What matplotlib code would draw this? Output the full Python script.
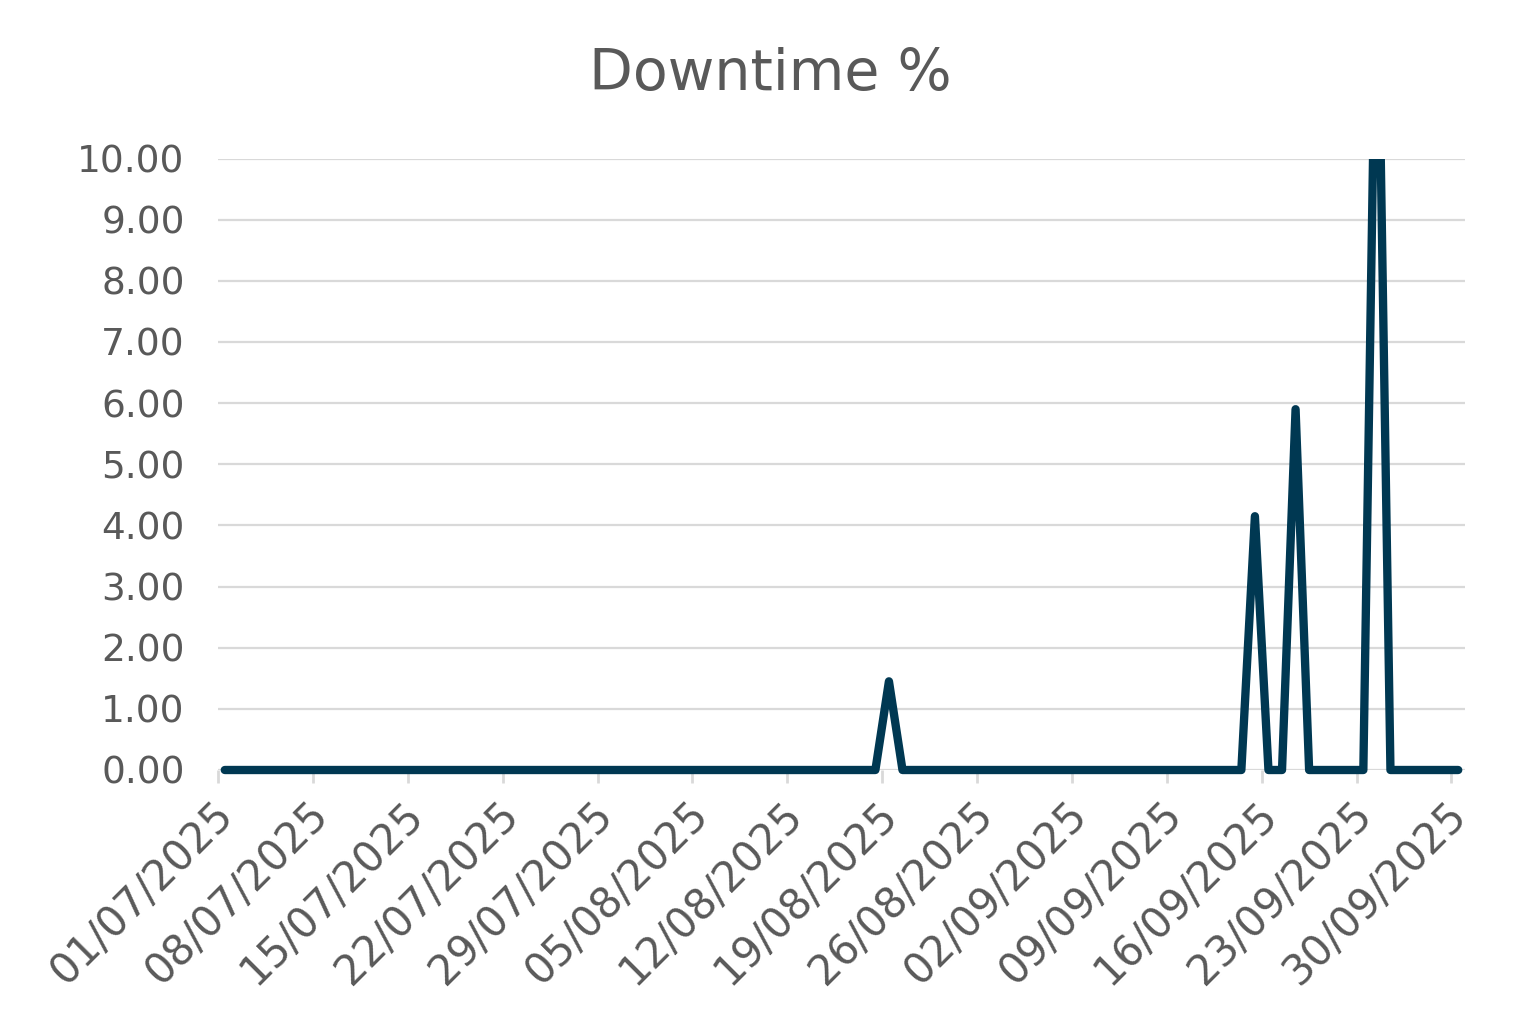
import matplotlib
matplotlib.use("Agg")
import matplotlib.pyplot as plt
import matplotlib.dates as mdates
from matplotlib.patches import Rectangle
from matplotlib.ticker import FormatStrFormatter
from matplotlib.transforms import ScaledTranslation
import pandas as pd

# daily downtime %, 01/07/2025 .. 30/09/2025
START = "2025-07-01"
JULY = [0.00, 0.00, 0.00, 0.00, 0.00, 0.00, 0.00, 0.00, 0.00, 0.00,
        0.00, 0.00, 0.00, 0.00, 0.00, 0.00, 0.00, 0.00, 0.00, 0.00,
        0.00, 0.00, 0.00, 0.00, 0.00, 0.00, 0.00, 0.00, 0.00, 0.00,
        0.00]
AUGUST = [0.00, 0.00, 0.00, 0.00, 0.00, 0.00, 0.00, 0.00, 0.00, 0.00,
          0.00, 0.00, 0.00, 0.00, 0.00, 0.00, 0.00, 0.00, 1.45, 0.00,
          0.00, 0.00, 0.00, 0.00, 0.00, 0.00, 0.00, 0.00, 0.00, 0.00,
          0.00]
SEPTEMBER = [0.00, 0.00, 0.00, 0.00, 0.00, 0.00, 0.00, 0.00, 0.00, 0.00,
             0.00, 0.00, 0.00, 0.00, 4.15, 0.00, 0.00, 5.90, 0.00, 0.00,
             0.00, 0.00, 0.00, 14.0, 0.00, 0.00, 0.00, 0.00, 0.00, 0.00]
Y_TICKS = [0, 1, 2, 3, 4, 5, 6, 7, 8, 9, 10]
TITLE = "Downtime %"

TEXT = "#595959"
LINE = "#003852"
GRID = "#d9d9d9"

values = JULY + AUGUST + SEPTEMBER
days = pd.date_range(START, periods=len(values), freq="D")
x = days + pd.Timedelta(hours=12)  # points sit mid-day, between tick marks

fig = plt.figure(figsize=(15.39, 10.31), dpi=100)
ax = fig.add_axes([218 / 1539, 261 / 1031, (1465 - 218) / 1539, (770 - 158.5) / 1031])

line, = ax.plot(x, values, color=LINE, lw=6,
                solid_capstyle="round", solid_joinstyle="round", zorder=3)
line.set_clip_path(Rectangle((-0.02, -0.05), 1.04, 1.05, transform=ax.transAxes))

ax.set_ylim(0, 10)
ax.set_xlim(days[0], days[-1] + pd.Timedelta(days=1))
ax.set_yticks(Y_TICKS)
ax.yaxis.set_major_formatter(FormatStrFormatter("%.2f"))
ax.set_xticks(pd.date_range(START, days[-1], freq="7D"))
ax.xaxis.set_major_formatter(mdates.DateFormatter("%d/%m/%Y"))

ax.grid(axis="y", color=GRID, lw=1.6)
ax.set_axisbelow(True)
for s in ax.spines.values():
    s.set_visible(False)

ax.tick_params(axis="y", length=0, pad=24, labelsize=27, labelcolor=TEXT)
ax.tick_params(axis="x", length=9, width=2, color=GRID, pad=8,
               labelsize=30, labelcolor=TEXT)
offset = ScaledTranslation(-6 / 100, 0, fig.dpi_scale_trans)
for lab in ax.get_xticklabels():
    lab.set_rotation(45)
    lab.set_ha("right")
    lab.set_va("top")
    lab.set_rotation_mode("anchor")
    lab.set_transform(lab.get_transform() + offset)

fig.text(770 / 1539, 1 - 90 / 1031, TITLE, ha="center", va="baseline",
         fontsize=41, color=TEXT)

fig.savefig("out.png", dpi=100)
